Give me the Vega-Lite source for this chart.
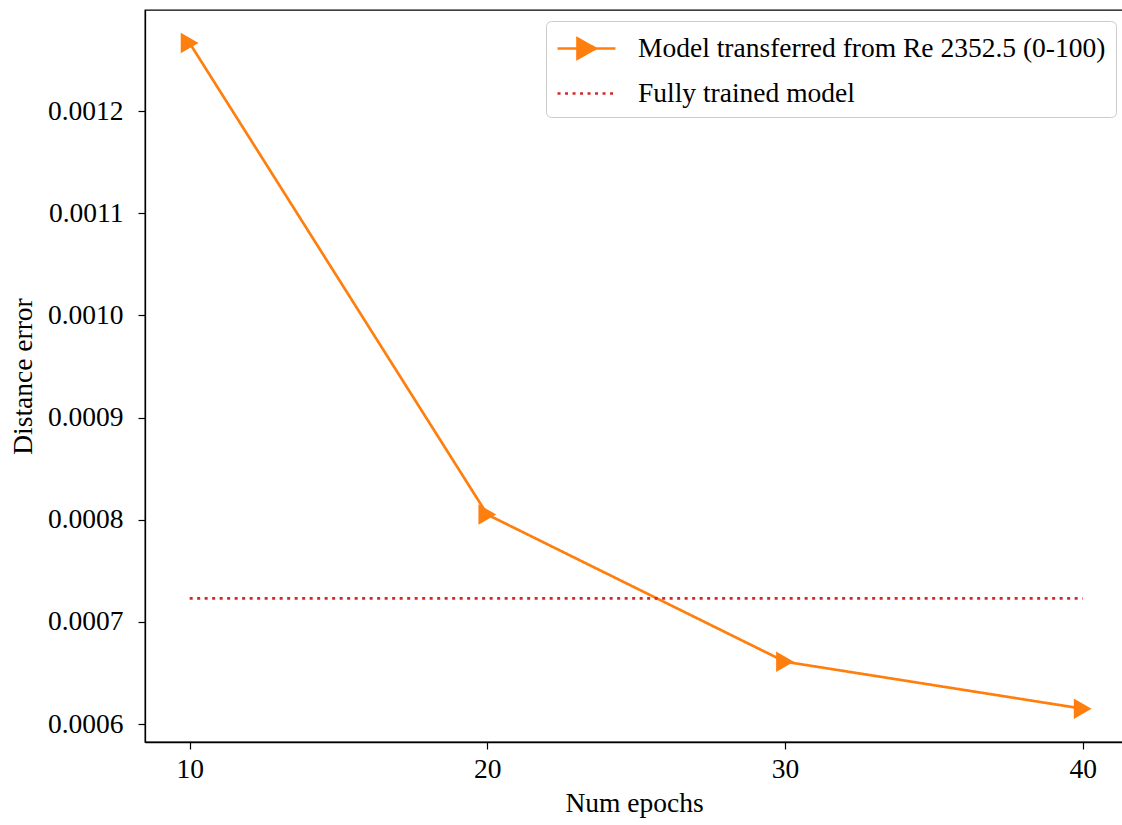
{
  "$schema": "https://vega.github.io/schema/vega-lite/v6.json",
  "width": 978,
  "height": 732,
  "autosize": {"type": "none"},
  "padding": {"left": 145, "top": 10, "right": 0, "bottom": 83},
  "background": "white",
  "config": {
    "view": {"stroke": "black", "strokeWidth": 1.3},
    "font": "Liberation Serif",
    "axis": {
      "grid": false,
      "domainColor": "black",
      "tickColor": "black",
      "labelColor": "black",
      "titleColor": "black",
      "labelFont": "Liberation Serif",
      "titleFont": "Liberation Serif",
      "labelFontSize": 27.5,
      "titleFontSize": 27.5,
      "titleFontWeight": "normal",
      "tickSize": 7,
      "tickWidth": 1.2,
      "domainWidth": 1.3
    }
  },
  "datasets": {
    "main": [
      {"epochs": 10, "error": 0.0012665, "series": "Model transferred from Re 2352.5 (0-100)"},
      {"epochs": 20, "error": 0.000805, "series": "Model transferred from Re 2352.5 (0-100)"},
      {"epochs": 30, "error": 0.000661, "series": "Model transferred from Re 2352.5 (0-100)"},
      {"epochs": 40, "error": 0.000615, "series": "Model transferred from Re 2352.5 (0-100)"},
      {"epochs": 10, "error": 0.000723, "series": "Fully trained model"},
      {"epochs": 40, "error": 0.000723, "series": "Fully trained model"}
    ]
  },
  "data": {"name": "main"},
  "layer": [
    {
      "mark": {"type": "line", "strokeWidth": 2.7, "clip": true},
      "encoding": {
        "x": {
          "field": "epochs", "type": "quantitative",
          "scale": {"domain": [8.5, 41.355], "nice": false, "zero": false},
          "axis": {"values": [10, 20, 30, 40], "title": "Num epochs", "labelPadding": 6, "titlePadding": 7}
        },
        "y": {
          "field": "error", "type": "quantitative",
          "scale": {"domain": [0.0005824, 0.0012989], "nice": false, "zero": false},
          "axis": {"values": [0.0006, 0.0007, 0.0008, 0.0009, 0.001, 0.0011, 0.0012], "format": ".4f", "title": "Distance error", "labelPadding": 15, "titlePadding": 10}
        },
        "color": {
          "field": "series", "type": "nominal",
          "scale": {"domain": ["Model transferred from Re 2352.5 (0-100)", "Fully trained model"], "range": ["#ff7f0e", "#d62728"]},
          "legend": {
            "title": null,
            "orient": "none",
            "legendX": 401,
            "legendY": 11,
            "labelFont": "Liberation Serif",
            "labelFontSize": 27.5,
            "labelColor": "black",
            "labelLimit": 0,
            "symbolSize": 1024,
            "symbolStrokeWidth": 2.7,
            "symbolOffset": 13,
            "rowPadding": 12,
            "padding": 10,
            "strokeColor": "#cccccc",
            "cornerRadius": 5,
            "fillColor": "white",
            "labelOffset": 34,
            "encode": {
              "symbols": {
                "update": {
                  "shape": {"signal": "indexof(datum.value, 'Model') === 0 ? 'M-1.81,0H1.81M-0.56,-0.625L0.56,0L-0.56,0.625Z' : 'M-1.81,0H1.81'"},
                  "fill": {"signal": "indexof(datum.value, 'Model') === 0 ? '#ff7f0e' : 'transparent'"},
                  "strokeDash": {"signal": "indexof(datum.value, 'Model') === 0 ? [1,0] : [4,7]"}
                }
              }
            }
          }
        },
        "strokeDash": {
          "field": "series", "type": "nominal",
          "scale": {"domain": ["Model transferred from Re 2352.5 (0-100)", "Fully trained model"], "range": [[1, 0], [3, 4.5]]},
          "legend": null
        }
      }
    },
    {
      "transform": [{"filter": "indexof(datum.series, 'Model') === 0"}],
      "mark": {"type": "point", "shape": "triangle-right", "filled": true, "size": 420, "opacity": 1, "color": "#ff7f0e"},
      "encoding": {
        "x": {"field": "epochs", "type": "quantitative"},
        "y": {"field": "error", "type": "quantitative"}
      }
    }
  ]
}
